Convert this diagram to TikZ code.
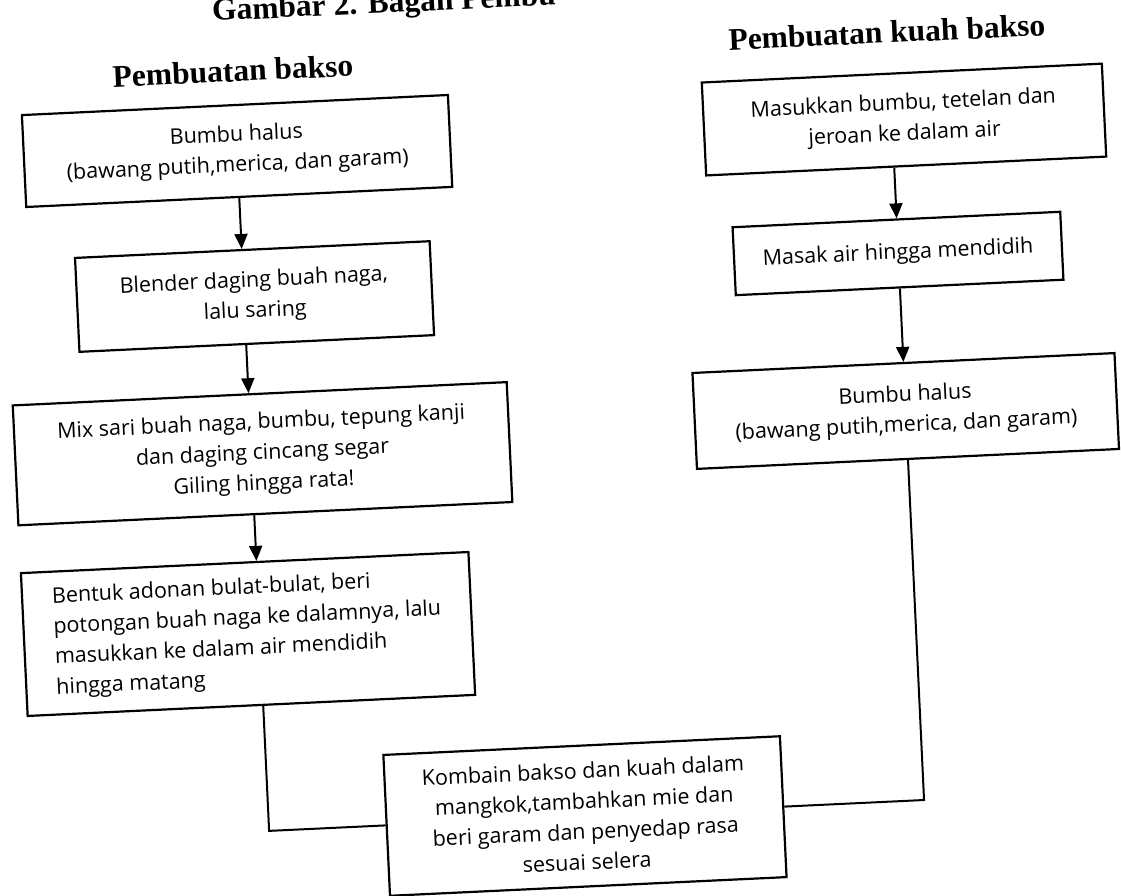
\documentclass[tikz,border=0pt]{standalone}
\usepackage{fontspec}
\setmainfont{Liberation Serif}
\newfontfamily\boxfont{Open Sans}
\usetikzlibrary{arrows.meta}
\begin{document}
\begin{tikzpicture}[x=1pt,y=-1pt,
  box/.style={draw,line width=2.2pt,inner sep=0pt,align=center,
    font=\boxfont\fontsize{21.5}{30.5}\selectfont},
  arr/.style={line width=2pt,-{Triangle[width=13pt,length=15pt]}},
  link/.style={line width=2pt},
  head/.style={font=\bfseries\fontsize{31.5}{36}\selectfont}]
\useasboundingbox (0,0) rectangle (1121,896);
\clip (0,0) rectangle (1121,896);
\fill[white] (0,0) rectangle (1121,896);
\begin{scope}[rotate around={2.7:(560,448)}, transform shape]
  \node[head,anchor=base] (cap) at (405,5) {Gambar 2. Bagan Pembu};
  \node[head] (hl) at (251,56) {Pembuatan bakso};
  \node[head] (hr) at (906,48) {Pembuatan kuah bakso};

  \node[box,minimum width=426.5pt,minimum height=92pt] (B1) at (251.4,136.1)
    {Bumbu halus\\(bawang putih,merica, dan garam)};
  \node[box,minimum width=355pt,minimum height=94pt] (B2) at (262.0,282.3)
    {Blender daging buah naga,\\lalu saring};
  \node[box,minimum width=494.5pt,minimum height=120pt] (B3) at (262.6,439.7)
    {Mix sari buah naga, bumbu, tepung kanji\\dan daging cincang segar\\Giling hingga rata!};
  \node[box,align=left,minimum width=448pt,minimum height=143pt] (B4) at (239.6,619.1)
    {Bentuk adonan bulat-bulat, beri\\potongan buah naga ke dalamnya, lalu\\masukkan ke dalam air mendidih\\hingga matang};
  \node[box,minimum width=397pt,minimum height=141pt] (B5) at (567.6,816.8)
    {Kombain bakso dan kuah dalam\\mangkok,tambahkan mie dan\\beri garam dan penyedap rasa\\sesuai selera};

  \node[box,minimum width=400.5pt,minimum height=93pt] (R1) at (919.1,136.1)
    {Masukkan bumbu, tetelan dan\\jeroan ke dalam air};
  \node[box,minimum width=328pt,minimum height=68pt] (R2) at (906.8,269.6)
    {Masak air hingga mendidih};
  \node[box,minimum width=422.5pt,minimum height=96pt] (R3) at (907.1,427.3)
    {Bumbu halus\\(bawang putih,merica, dan garam)};

  \draw[arr] (B1.south) -- (B1.south |- B2.north);
  \draw[arr] (B1.south |- B2.south) -- (B1.south |- B3.north);
  \draw[arr] (B1.south |- B3.south) -- (B1.south |- B4.north);
  \draw[link] (B1.south |- B4.south) |- (B5.west);

  \draw[arr] (R3.south |- R1.south) -- (R3.south |- R2.north);
  \draw[arr] (R3.south |- R2.south) -- (R3.north);
  \draw[link] (R3.south) |- (B5.east);
\end{scope}
\end{tikzpicture}
\end{document}
